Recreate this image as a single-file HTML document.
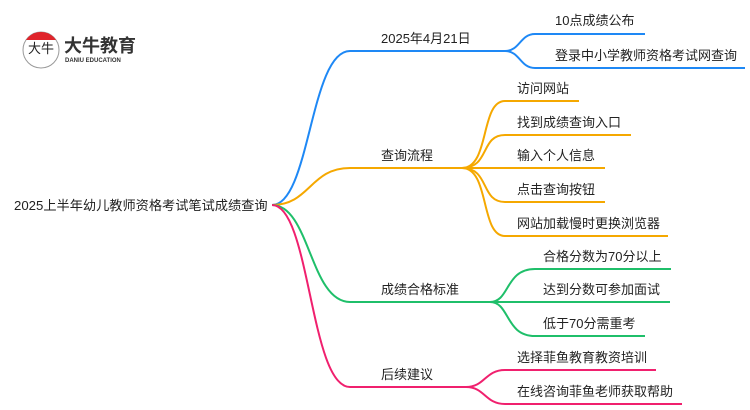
<!DOCTYPE html>
<html><head><meta charset="utf-8"><style>
body{margin:0;width:750px;height:410px;background:#fff;overflow:hidden;position:relative;font-family:"Liberation Sans","Noto Sans CJK SC",sans-serif;}
.t{position:absolute;font-size:13px;color:#222;white-space:nowrap;line-height:16px;}
</style></head><body>
<svg width="750" height="410" style="position:absolute;left:0;top:0" fill="none" stroke-width="2">
<g stroke="#1e88f5">
<path d="M272 205 C310 205 310 51 350 51 H505"/>
<path d="M505 51 C520 51 520 34 535 34 H645"/>
<path d="M505 51 C520 51 520 68 535 68 H745"/>
</g>
<g stroke="#f5a800">
<path d="M272 205 C310 205 310 168 350 168 H462"/>
<path d="M462 168 C490 168 480 101 505 101 H579"/>
<path d="M462 168 C490 168 480 135 505 135 H631"/>
<path d="M462 168 H605"/>
<path d="M462 168 C490 168 480 202 505 202 H605"/>
<path d="M462 168 C490 168 480 236 505 236 H668"/>
</g>
<g stroke="#1fbf6a">
<path d="M272 205 C310 205 310 302 350 302 H490"/>
<path d="M490 302 C510 302 505 269 535 269 H671"/>
<path d="M490 302 H670"/>
<path d="M490 302 C510 302 505 336 535 336 H645"/>
</g>
<g stroke="#f0206e">
<path d="M272 205 C310 205 310 387 350 387 H466"/>
<path d="M466 387 C485 387 485 370 505 370 H656"/>
<path d="M466 387 C485 387 485 404 505 404 H682"/>
</g>
<circle cx="41" cy="50" r="18" stroke="#999" stroke-width="1" fill="#fff"/>
<path d="M26 40 A18 18 0 0 1 56 40 Z" fill="#e0242b" stroke="none"/>
</svg>
<div class="t" style="left:28px;top:41px;font-size:13px">大牛</div>
<div class="t" style="left:64px;top:36px;font-size:18px;line-height:20px;font-weight:bold;color:#333">大牛教育</div>
<div class="t" style="left:65px;top:57px;font-size:6px;line-height:8px;color:#333;font-weight:bold">DANIU EDUCATION</div>
<div class="t" style="left:14px;top:197px;font-size:13.2px;line-height:18px">2025上半年幼儿教师资格考试笔试成绩查询</div>
<div class="t" style="left:381px;top:31px">2025年4月21日</div>
<div class="t" style="left:555px;top:13px">10点成绩公布</div>
<div class="t" style="left:555px;top:48px">登录中小学教师资格考试网查询</div>
<div class="t" style="left:381px;top:148px">查询流程</div>
<div class="t" style="left:517px;top:81px">访问网站</div>
<div class="t" style="left:517px;top:115px">找到成绩查询入口</div>
<div class="t" style="left:517px;top:148px">输入个人信息</div>
<div class="t" style="left:517px;top:182px">点击查询按钮</div>
<div class="t" style="left:517px;top:216px">网站加载慢时更换浏览器</div>
<div class="t" style="left:381px;top:282px">成绩合格标准</div>
<div class="t" style="left:543px;top:249px">合格分数为70分以上</div>
<div class="t" style="left:543px;top:282px">达到分数可参加面试</div>
<div class="t" style="left:543px;top:316px">低于70分需重考</div>
<div class="t" style="left:381px;top:367px">后续建议</div>
<div class="t" style="left:517px;top:350px">选择菲鱼教育教资培训</div>
<div class="t" style="left:517px;top:384px">在线咨询菲鱼老师获取帮助</div>
</body></html>
